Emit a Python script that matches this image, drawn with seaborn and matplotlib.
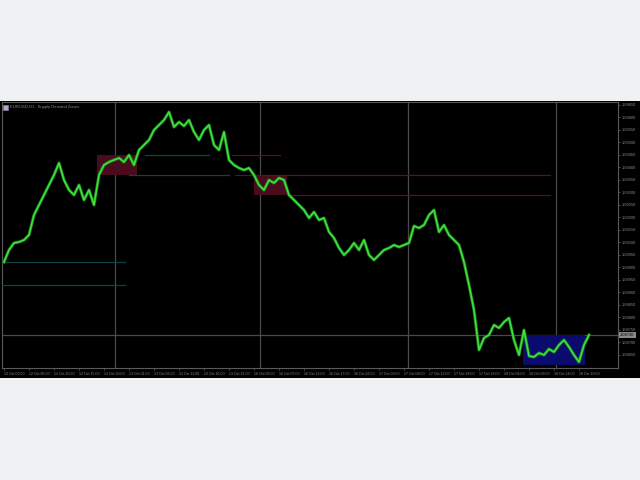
import matplotlib
matplotlib.use("Agg")
import matplotlib.pyplot as plt
import seaborn as sns
import pandas as pd
import numpy as np
from matplotlib.patches import Rectangle

# ---- data ----
prices = [1.09022, 1.0907, 1.09098, 1.09102, 1.0911, 1.0913, 1.0921, 1.0925, 1.0929, 1.0933,
          1.0937, 1.09418, 1.0935, 1.0931, 1.0929, 1.0933, 1.0927, 1.0931, 1.0925, 1.0937,
          1.0941, 1.09422, 1.0943, 1.09438, 1.09422, 1.0945, 1.0941, 1.0947, 1.0949, 1.0951,
          1.0955, 1.0957, 1.0959, 1.09622, 1.09562, 1.09582, 1.09566, 1.0959, 1.09542, 1.0951,
          1.0955, 1.0957, 1.0949, 1.0947, 1.09542, 1.0943, 1.0941, 1.09398, 1.0939, 1.09398,
          1.0937, 1.0933, 1.0931, 1.0935, 1.09338, 1.09358, 1.0935, 1.0929, 1.0927, 1.0925,
          1.0923, 1.09198, 1.09222, 1.0919, 1.09198, 1.09142, 1.09118, 1.09078, 1.0905, 1.0907,
          1.09098, 1.0907, 1.0911, 1.0905, 1.0903, 1.0905, 1.0907, 1.09078, 1.0909, 1.09082,
          1.0909, 1.09098, 1.09166, 1.09158, 1.0917, 1.0921, 1.0923, 1.09142, 1.0917, 1.0913,
          1.0911, 1.0909, 1.09022, 1.0893, 1.0883, 1.0867, 1.08718, 1.0873, 1.0877, 1.08758,
          1.08782, 1.08798, 1.0871, 1.0865, 1.0875, 1.08646, 1.08642, 1.08658, 1.0865, 1.08674,
          1.08662, 1.0869, 1.0871, 1.08682, 1.0865, 1.08622, 1.0869, 1.0873]
bars = list(range(len(prices)))

price_ticks = [1.0965 - 0.0005 * k for k in range(21)]
current_price = 1.0873
day_separators = [22.2, 51.2, 80.8, 110.4]

# zones: (start_bar, end_bar, low, high)
supply_zones = [(18.6, 26.6, 1.0937, 1.0945), (50.0, 56.6, 1.0929, 1.0937)]
demand_zone = (103.8, 116.2, 1.0861, 1.0873)
# levels: (price, start_bar, end_bar)
red_levels = [(1.0945, 45.6, 55.2), (1.0937, 46.2, 109.2), (1.0929, 56.6, 109.2)]
teal_levels = [(1.0945, 28.2, 41.0), (1.0937, 25.0, 45.0), (1.09022, -0.4, 24.2), (1.0893, -0.4, 24.2)]

time_labels = ["12 Oct 00:00", "12 Oct 05:00", "12 Oct 10:00", "12 Oct 15:00", "12 Oct 20:00",
               "13 Oct 01:00", "13 Oct 06:00", "13 Oct 11:00", "13 Oct 16:00", "13 Oct 21:00",
               "16 Oct 02:00", "16 Oct 07:00", "16 Oct 12:00", "16 Oct 17:00", "16 Oct 22:00",
               "17 Oct 03:00", "17 Oct 08:00", "17 Oct 13:00", "17 Oct 18:00", "17 Oct 23:00",
               "18 Oct 04:00", "18 Oct 09:00", "18 Oct 14:00", "18 Oct 19:00"]
title_text = "EURUSD,H1   Supply Demand Zones"

df = pd.DataFrame({"bar": bars, "price": prices})

FONT = "Liberation Sans"

# ---- figure ----
fig = plt.figure(figsize=(6.4, 4.8), dpi=100, facecolor="#f0f1f3")
bg = fig.add_axes([0, 1 - 378 / 480, 1, 277 / 480])
bg.set_facecolor("black")
bg.set_xticks([]); bg.set_yticks([])
for s in bg.spines.values():
    s.set_visible(False)

ax = fig.add_axes([2 / 640, 1 - 368 / 480, 616 / 640, 266 / 480])
ax.set_facecolor("black")

for x in day_separators:
    ax.axvline(x, color="#4a4a4a", lw=0.9, zorder=1)
ax.axhline(current_price, color="#4a4a4a", lw=0.9, zorder=1)

for (x0, x1, lo, hi) in supply_zones:
    ax.add_patch(Rectangle((x0, lo), x1 - x0, hi - lo, facecolor="#4a0c1c", edgecolor="none", zorder=2))
x0, x1, lo, hi = demand_zone
ax.add_patch(Rectangle((x0, lo), x1 - x0, hi - lo, facecolor="#0b0b6e", edgecolor="none", zorder=2))

for (p, a, b) in red_levels:
    ax.plot([a, b], [p, p], color="#5e0f22", lw=0.9, zorder=3)
for (p, a, b) in teal_levels:
    ax.plot([a, b], [p, p], color="#0f4444", lw=0.9, zorder=3)

sns.lineplot(data=df, x="bar", y="price", ax=ax, color="#1a8a1a", lw=2.2, zorder=4)
sns.lineplot(data=df, x="bar", y="price", ax=ax, color="#3fe23f", lw=1.1, zorder=5)

ax.set_xlim(-0.4, 122.8)
ax.set_ylim(1.08598, 1.09662)
ax.set_xlabel(""); ax.set_ylabel("")
ax.grid(False)
for s in ax.spines.values():
    s.set_color("#5a5a5a"); s.set_linewidth(0.8)

ax.yaxis.tick_right()
shown = [t for t in price_ticks if abs(t - current_price) > 0.0002]
ax.set_yticks(shown)
ax.set_yticklabels([f"{t:.5f}" for t in shown], fontsize=2.9, color="#8a8a8a", family=FONT)
ax.tick_params(axis="y", length=1.5, width=0.5, color="#6a6a6a", pad=1.0)

xt = [5 * i for i in range(len(time_labels))]
ax.set_xticks(xt)
ax.set_xticklabels(time_labels, fontsize=2.6, color="#8a8a8a", ha="left", family=FONT)
ax.tick_params(axis="x", length=1.5, width=0.5, color="#6a6a6a", pad=1.5)

ax.text(1.0035, current_price, f"{current_price:.5f}", transform=ax.get_yaxis_transform(),
        fontsize=2.9, color="black", va="center", ha="left", family=FONT,
        bbox=dict(boxstyle="square,pad=0.25", facecolor="#8a8a8a", edgecolor="none"))

ax.text(0.0135, 0.988, title_text, transform=ax.transAxes, fontsize=3.0, color="#8a8a8a",
        va="top", ha="left", family=FONT)
ax.add_patch(Rectangle((0.002, 0.97), 0.008, 0.017, transform=ax.transAxes,
                       facecolor="#c8a0b0", edgecolor="#8090c0", lw=0.4, zorder=6))

fig.savefig("out.png", dpi=100, facecolor=fig.get_facecolor())
